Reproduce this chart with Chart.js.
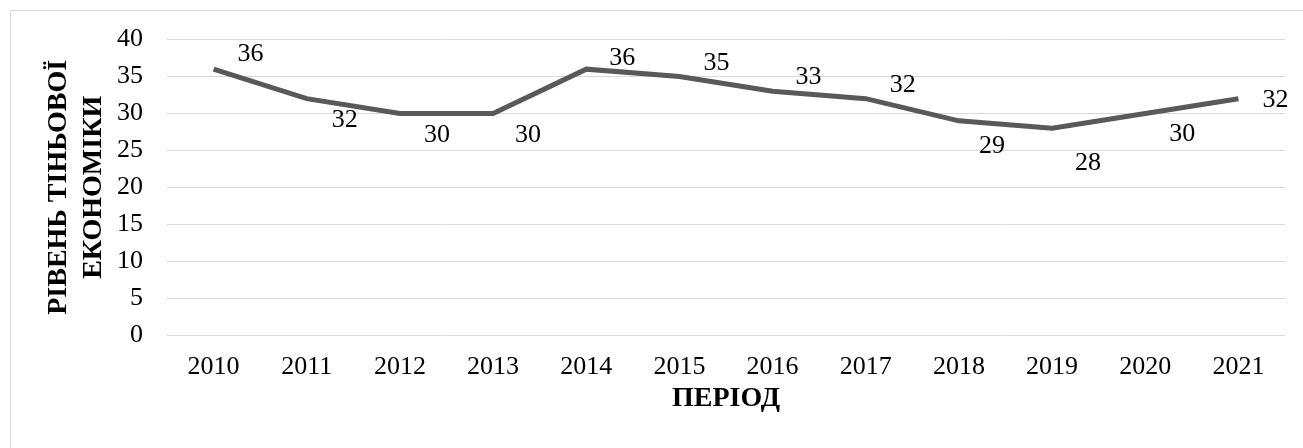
<!DOCTYPE html>
<html>
<head>
<meta charset="utf-8">
<script src="https://cdn.jsdelivr.net/npm/chart.js@4.4.0/dist/chart.umd.min.js"></script>
<style>
    body { margin: 0; background: #fff; }
    #wrap { width: 1303px; height: 448px; position: relative; }
</style>
</head>
<body>
<div id="wrap"><canvas id="shadowEconomyGraph" width="1303" height="448"></canvas></div>
<script>
const years = ['2010', '2011', '2012', '2013', '2014', '2015', '2016', '2017', '2018', '2019', '2020', '2021'];
const shadowLevel = [36, 32, 30, 30, 36, 35, 33, 32, 29, 28, 30, 32];
const yTicks = [0, 5, 10, 15, 20, 25, 30, 35, 40];

// where each value label sits relative to its point (px)
const labelOffsets = [[37, -15], [38, 21], [37, 22], [35, 22], [36, -11], [37, -13], [36, -14], [37, -14], [33, 25], [36, 35], [37, 21], [37, 1]];

const serif = "'Liberation Serif', 'Times New Roman', serif";

// only the top and left edges of the chart frame are inside the picture
const borderPlugin = {
    id: 'outerBorder',
    beforeDraw(chart) {
        const ctx = chart.ctx;
        ctx.save();
        ctx.fillStyle = '#fff';
        ctx.fillRect(0, 0, chart.width, chart.height);
        ctx.strokeStyle = '#d9d9d9';
        ctx.lineWidth = 1;
        ctx.beginPath();
        ctx.moveTo(10.5, chart.height);
        ctx.lineTo(10.5, 10.5);
        ctx.lineTo(chart.width, 10.5);
        ctx.stroke();
        ctx.restore();
    }
};

const valueLabels = {
    id: 'valueLabels',
    afterDatasetsDraw(chart) {
        const ctx = chart.ctx;
        const meta = chart.getDatasetMeta(0);
        ctx.save();
        ctx.font = '26px ' + serif;
        ctx.fillStyle = '#000';
        ctx.textAlign = 'center';
        ctx.textBaseline = 'middle';
        meta.data.forEach(function (pt, i) {
            ctx.fillText(String(shadowLevel[i]), pt.x + labelOffsets[i][0], pt.y + labelOffsets[i][1]);
        });
        ctx.restore();
    }
};

function drawShadowGraph() {
    const canvas = document.getElementById('shadowEconomyGraph');

    new Chart(canvas, {
        type: 'line',
        data: {
            labels: years,
            datasets: [
                {
                    data: shadowLevel,
                    borderColor: '#595959',
                    borderWidth: 5,
                    pointRadius: 0,
                    tension: 0,
                    fill: false
                }
            ]
        },
        options: {
            responsive: false,
            animation: false,
            layout: {
                padding: { left: 20, right: 18, top: 38, bottom: 20 }
            },
            plugins: {
                legend: { display: false },
                tooltip: { enabled: false }
            },
            scales: {
                x: {
                    offset: true,
                    grid: { display: false, drawTicks: false },
                    border: { display: false },
                    ticks: {
                        color: '#000',
                        padding: 17,
                        maxRotation: 0,
                        autoSkip: false,
                        font: { family: serif, size: 26 }
                    },
                    title: {
                        display: true,
                        text: 'ПЕРІОД',
                        color: '#000',
                        padding: { top: 0, bottom: 12 },
                        font: { family: serif, size: 28, weight: 'bold', lineHeight: 1.2 }
                    },
                    afterFit(scale) { scale.height = 448 - 335 - 20; }
                },
                y: {
                    min: 0,
                    max: 40,
                    afterBuildTicks(scale) { scale.ticks = yTicks.map(v => ({ value: v })); },
                    grid: { color: '#d9d9d9', lineWidth: 1, drawTicks: false },
                    border: { display: false },
                    ticks: {
                        color: '#000',
                        padding: 24,
                        font: { family: serif, size: 26 }
                    },
                    title: {
                        display: true,
                        text: ['РІВЕНЬ ТІНЬОВОЇ', 'ЕКОНОМІКИ'],
                        color: '#000',
                        padding: { top: 21, bottom: 0 },
                        font: { family: serif, size: 28, weight: 'bold', lineHeight: 1.25 }
                    },
                    afterFit(scale) { scale.width = 167 - 20; }
                }
            }
        },
        plugins: [borderPlugin, valueLabels]
    });
}

drawShadowGraph();
</script>
</body>
</html>
